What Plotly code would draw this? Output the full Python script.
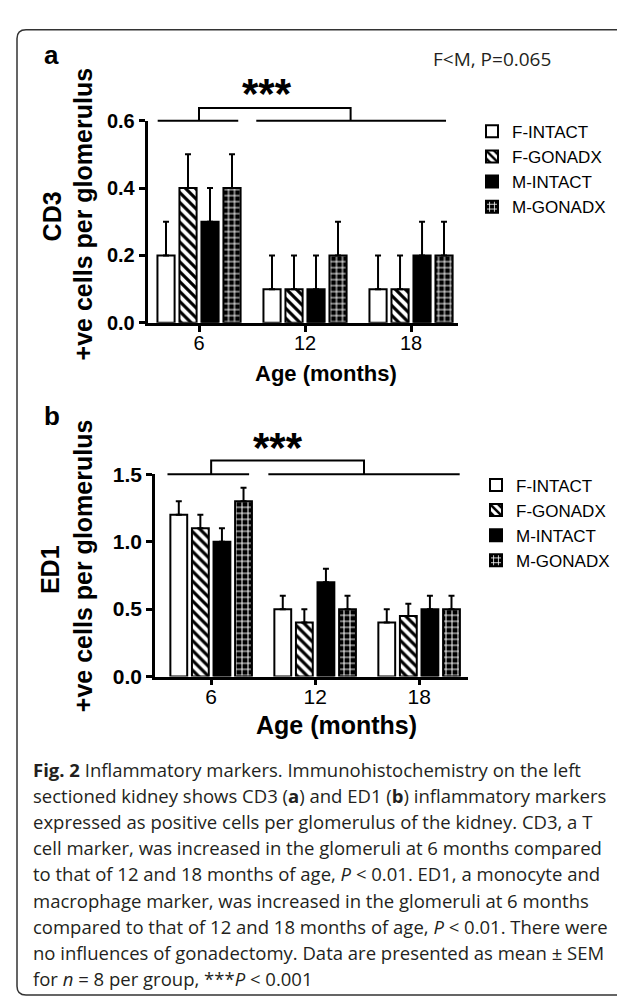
import plotly.graph_objects as go

# ---------------- data ----------------
ages = ["6", "12", "18"]
groups = ["F-INTACT", "F-GONADX", "M-INTACT", "M-GONADX"]

cd3_f_intact = [0.2, 0.1, 0.1]
cd3_f_gonadx = [0.4, 0.1, 0.1]
cd3_m_intact = [0.3, 0.1, 0.2]
cd3_m_gonadx = [0.4, 0.2, 0.2]
cd3_sem_f_intact = [0.1, 0.1, 0.1]
cd3_sem_f_gonadx = [0.1, 0.1, 0.1]
cd3_sem_m_intact = [0.1, 0.1, 0.1]
cd3_sem_m_gonadx = [0.1, 0.1, 0.1]

ed1_f_intact = [1.2, 0.5, 0.4]
ed1_f_gonadx = [1.1, 0.4, 0.45]
ed1_m_intact = [1.0, 0.7, 0.5]
ed1_m_gonadx = [1.3, 0.5, 0.5]
ed1_sem_f_intact = [0.1, 0.1, 0.1]
ed1_sem_f_gonadx = [0.1, 0.1, 0.09]
ed1_sem_m_intact = [0.1, 0.1, 0.1]
ed1_sem_m_gonadx = [0.1, 0.1, 0.1]

caption_lines = [
    "<b>Fig. 2</b> Inflammatory markers. Immunohistochemistry on the left",
    "sectioned kidney shows CD3 (<b>a</b>) and ED1 (<b>b</b>) inflammatory markers",
    "expressed as positive cells per glomerulus of the kidney. CD3, a T",
    "cell marker, was increased in the glomeruli at 6 months compared",
    "to that of 12 and 18 months of age, <i>P</i> &lt; 0.01. ED1, a monocyte and",
    "macrophage marker, was increased in the glomeruli at 6 months",
    "compared to that of 12 and 18 months of age, <i>P</i> &lt; 0.01. There were",
    "no influences of gonadectomy. Data are presented as mean ± SEM",
    "for <i>n</i> = 8 per group, ***<i>P</i> &lt; 0.001",
]

# ---------------- helpers ----------------
W, H = 625, 1000
ARIAL = "Liberation Sans, Arial, sans-serif"
CAPF = "Open Sans, Noto Sans, sans-serif"


def px(x):
    return x / W


def py(y):
    return 1 - y / H


styles = {
    "F-INTACT": dict(color="white"),
    "F-GONADX": dict(color="white", pattern=dict(shape="\\", fgcolor="black", bgcolor="white",
                                                size=7, solidity=0.45, fillmode="replace")),
    "M-INTACT": dict(color="black"),
    "M-GONADX": dict(color="black", pattern=dict(shape="+", fgcolor="white", bgcolor="black",
                                                size=6, solidity=0.3, fillmode="replace")),
}

cd3_vals = [cd3_f_intact, cd3_f_gonadx, cd3_m_intact, cd3_m_gonadx]
cd3_sems = [cd3_sem_f_intact, cd3_sem_f_gonadx, cd3_sem_m_intact, cd3_sem_m_gonadx]
ed1_vals = [ed1_f_intact, ed1_f_gonadx, ed1_m_intact, ed1_m_gonadx]
ed1_sems = [ed1_sem_f_intact, ed1_sem_f_gonadx, ed1_sem_m_intact, ed1_sem_m_gonadx]

xpos = list(range(len(ages)))

fig = go.Figure()

for vals, sems, xa, ya, lg in [
        (cd3_vals, cd3_sems, "x", "y", "legend"),
        (ed1_vals, ed1_sems, "x2", "y2", "legend2")]:
    for g, v, s in zip(groups, vals, sems):
        fig.add_trace(go.Bar(
            x=xpos, y=v, name=g, xaxis=xa, yaxis=ya, legend=lg,
            offsetgroup=g,
            marker=dict(line=dict(color="black", width=2), **styles[g]),
            error_y=dict(type="data", array=s, arrayminus=[0] * len(s), symmetric=False,
                         color="black", thickness=2, width=3),
            cliponaxis=False,
        ))

axis_common = dict(showline=True, linecolor="black", linewidth=2.5, ticks="outside",
                   tickcolor="black", tickwidth=2.5, ticklen=6, showgrid=False,
                   zeroline=False, fixedrange=True)

fig.update_layout(
    width=W, height=H, autosize=False,
    margin=dict(l=0, r=0, t=0, b=0),
    paper_bgcolor="white", plot_bgcolor="white",
    barmode="group", bargap=0.17, bargroupgap=0.22,
    showlegend=True,
    xaxis=dict(domain=[px(139.5), px(450)], range=[-0.486, 2.443], anchor="y",
               tickvals=xpos, ticktext=ages, ticklabelstandoff=-6,
               tickfont=dict(family=ARIAL, size=20, color="black"), **axis_common),
    yaxis=dict(domain=[py(310), py(103)], range=[0, 0.6], anchor="x",
               tickvals=[0, 0.2, 0.4, 0.6], tickformat=".1f",
               tickfont=dict(family=ARIAL, size=20, color="black", weight="bold"), **axis_common),
    xaxis2=dict(domain=[px(147), px(460)], range=[-0.54, 2.47], anchor="y2",
                tickvals=xpos, ticktext=ages, ticklabelstandoff=-6,
                tickfont=dict(family=ARIAL, size=21, color="black"), **axis_common),
    yaxis2=dict(domain=[py(672), py(465)], range=[0, 1.5], anchor="x2",
                tickvals=[0, 0.5, 1.0, 1.5], tickformat=".1f",
                tickfont=dict(family=ARIAL, size=21, color="black", weight="bold"), **axis_common),
    legend=dict(x=px(464), y=py(96), xanchor="left", yanchor="top",
                font=dict(family=ARIAL, size=17, color="black"),
                bgcolor="rgba(0,0,0,0)", tracegroupgap=0, itemclick=False, itemdoubleclick=False),
    legend2=dict(x=px(468), y=py(458), xanchor="left", yanchor="top",
                 font=dict(family=ARIAL, size=17, color="black"),
                 bgcolor="rgba(0,0,0,0)", tracegroupgap=0, itemclick=False, itemdoubleclick=False),
)


# significance brackets (x in data units, y in axis-domain units)
def bracket(xa, ya, left, right, v1, v2, top):
    xref, yref = xa, ya + " domain"
    line = dict(color="black", width=2)
    fig.add_shape(type="line", xref=xref, yref=yref, x0=left[0], x1=left[1], y0=1, y1=1, line=line)
    fig.add_shape(type="line", xref=xref, yref=yref, x0=right[0], x1=right[1], y0=1, y1=1, line=line)
    fig.add_shape(type="path", xref=xref, yref=yref,
                  path=f"M{v1},1 L{v1},{top} L{v2},{top} L{v2},1", line=line)


bracket("x", "y", (-0.39, 0.37), (0.54, 2.33), 0.0, 1.43, 1.063)
bracket("x2", "y2", (-0.42, 0.365), (0.55, 2.39), 0.0, 1.47, 1.068)

ann = []
for xa, ya in [("x", "y"), ("x2", "y2")]:
    ann.append(dict(text="***", xref=xa, yref=ya + " domain", x=0.64, y=1.135, showarrow=False,
                    font=dict(family=ARIAL, size=42, color="black", weight="bold"),
                    xanchor="center", yanchor="middle"))


def label(text, x, y, size, family=ARIAL, weight="bold", angle=0, color="black"):
    ann.append(dict(text=text, xref="paper", yref="paper", x=px(x), y=py(y), showarrow=False,
                    xanchor="center", yanchor="middle", textangle=angle,
                    font=dict(family=family, size=size, color=color, weight=weight)))


# panel letters and note
label("a", 43, 36, 26)
label("b", 44, 405, 26)
label("F&lt;M, P=0.065", 484, 40, 19, family=CAPF, weight="normal", color="#231f20")

# y-axis titles (two lines each)
label("CD3", 44, 201, 25, angle=-90)
label("+ve cells per glomerulus", 75, 199, 25, angle=-90)
label("ED1", 42, 563, 25, angle=-90)
label("+ve cells per glomerulus", 75, 559, 25, angle=-90)

# x-axis titles
label("Age (months)", 318, 362, 22)
label("Age (months)", 328, 722, 25)

# caption
for i, line in enumerate(caption_lines):
    ann.append(dict(text=line, xref="paper", yref="paper", x=px(23), y=py(767 + i * 26.75),
                    xanchor="left", yanchor="middle", showarrow=False, align="left",
                    font=dict(family=CAPF, size=18.5, color="#231f20")))

fig.update_layout(annotations=ann)

# rounded frame
fig.add_shape(type="path", xref="paper", yref="paper",
              path=(f"M{px(640)},{py(998)} L{px(18)},{py(998)} Q{px(9)},{py(998)} {px(9)},{py(989)} "
                    f"L{px(9)},{py(19)} Q{px(9)},{py(10)} {px(18)},{py(10)} L{px(640)},{py(10)}"),
              line=dict(color="#333333", width=1.5))

fig.write_html("out.html")
